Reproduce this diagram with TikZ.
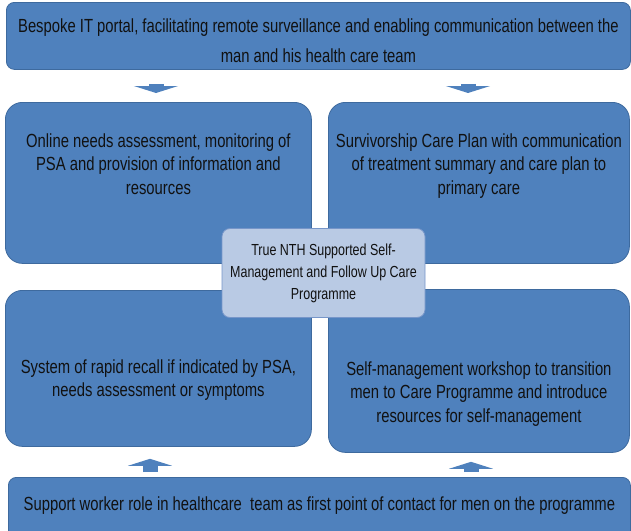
\documentclass[tikz,border=0pt]{standalone}
\usepackage{fontspec}
\setmainfont{Liberation Sans}[FakeStretch=0.78]
\usepackage{xcolor}
\usepackage{tikz}
\usetikzlibrary{arrows.meta}
\definecolor{boxblue}{HTML}{4F81BD}
\definecolor{boxline}{HTML}{3E6A9E}
\definecolor{hubfill}{HTML}{B9CAE4}
\definecolor{hubline}{HTML}{7796C9}
\definecolor{inktext}{HTML}{111111}
\tikzstyle{banner} = [draw=boxline, fill=boxblue, rounded corners=8pt, line width=0.8pt,
inner sep=0pt, anchor=north west, text=inktext, font=\fontsize{19}{23.5}\selectfont]
\tikzstyle{quarter} = [banner, rounded corners=17pt]
\tikzstyle{hub} = [draw=hubline, fill=hubfill, rounded corners=8pt, line width=0.8pt,
align=center, minimum width=203pt, minimum height=89pt, text=inktext,
font=\fontsize{16}{22}\selectfont]
\tikzstyle{blockarrow} = [draw=boxblue, line width=15pt, -{Triangle[width=44pt,length=7pt]}]

\begin{document}
\begin{tikzpicture}[x=1pt,y=-1pt]
        \clip (0,0) rectangle (631,530);
        \node [banner] (portal) at (6,2) {%
            \begin{minipage}[c][67pt][t]{624pt}
                \centering\fontsize{19}{30}\selectfont\vspace{16pt}
                Bespoke IT portal, facilitating remote surveillance and enabling communication between the\\
                man and his health care team
            \end{minipage}
        };
        \node [quarter] (needs) at (5,102) {%
            \begin{minipage}[c][161pt][t]{306pt}
                \centering\vspace{31pt}
                Online needs assessment, monitoring of\\
                PSA and provision of information and\\
                resources
            \end{minipage}
        };
        \node [quarter] (careplan) at (328,102) {%
            \begin{minipage}[c][161pt][t]{301pt}
                \centering\vspace{31pt}
                Survivorship Care Plan with communication\\
                of treatment summary and care plan to\\
                primary care
            \end{minipage}
        };
        \node [quarter] (recall) at (5,290) {%
            \begin{minipage}[c][156pt][t]{306pt}
                \centering\vspace{69pt}
                System of rapid recall if indicated by PSA,\\
                needs assessment or symptoms
            \end{minipage}
        };
        \node [quarter] (workshop) at (328,289) {%
            \begin{minipage}[c][163pt][t]{301pt}
                \centering\vspace{72pt}
                Self-management workshop to transition\\
                men to Care Programme and introduce\\
                resources for self-management
            \end{minipage}
        };
        \node [banner] (support) at (8,477) {%
            \begin{minipage}[c][68pt][t]{622pt}
                \centering\vspace{19pt}
                Support worker role in healthcare\ \ team as first point of contact for men on the programme
            \end{minipage}
        };
        \node [hub] (nth) at (323.5,273) {True NTH Supported Self-\\Management and Follow Up Care\\Programme};
        % block arrows
        \draw [blockarrow, shorten <=14pt, shorten >=9pt] (portal.south -| 156,0) -- (needs.north -| 156,0);
        \draw [blockarrow, shorten <=14pt, shorten >=9pt] (portal.south -| 468,0) -- (careplan.north -| 468,0);
        \draw [blockarrow, shorten <=5pt, shorten >=12pt] (support.north -| 150,0) -- (recall.south -| 150,0);
        \draw [blockarrow, shorten <=5pt, shorten >=9pt] (support.north -| 471,0) -- (workshop.south -| 471,0);
    \end{tikzpicture}
\end{document}
